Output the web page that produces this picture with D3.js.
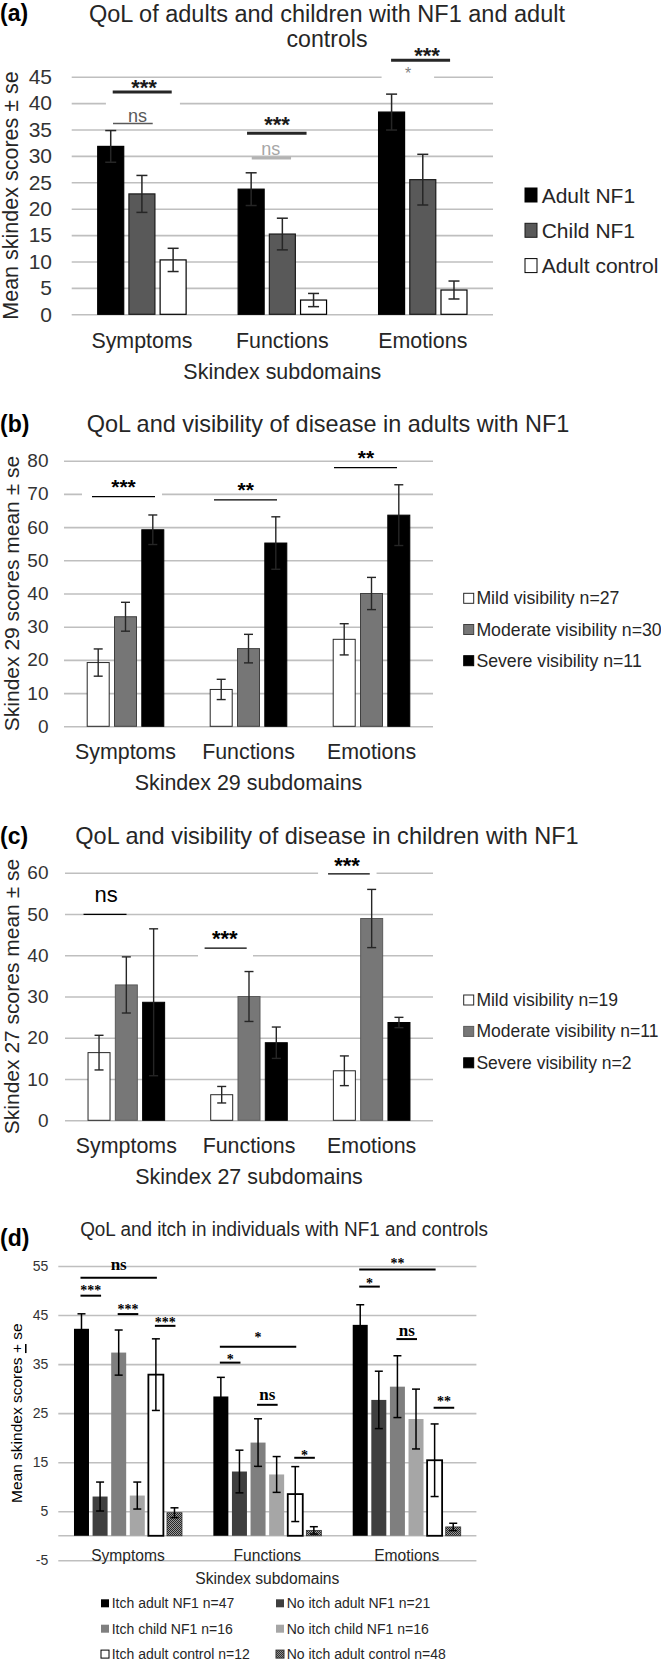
<!DOCTYPE html>
<html>
<head>
<meta charset="utf-8">
<script src="https://cdnjs.cloudflare.com/ajax/libs/d3/7.8.5/d3.min.js"></script>
<style>
  body { margin: 0; background: #fff; }
  svg { display: block; }
</style>
</head>
<body>
<div id="viz"></div>
<script>
const SANS = '"Liberation Sans", Arial, sans-serif';
const SERIF = '"Liberation Serif", "Times New Roman", serif';

const categories = ['Symptoms', 'Functions', 'Emotions'];

// (a) adults / children / controls  -- rows = series, cols = categories
const aSeries = ['Adult NF1', 'Child NF1', 'Adult control'];
const aMean = [[31.8, 23.7, 38.3], [22.8, 15.2, 25.5], [10.3, 2.7, 4.6]];
const aSe = [[3.0, 3.1, 3.4], [3.5, 3.0, 4.8], [2.2, 1.25, 1.7]];
const aTicks = [0, 5, 10, 15, 20, 25, 30, 35, 40, 45];

// (b) visibility, adults
const bSeries = ['Mild visibility n=27', 'Moderate visibility n=30', 'Severe visibility n=11'];
const bMean = [[19.2, 11.1, 26.2], [33.0, 23.4, 40.0], [59.2, 55.2, 63.6]];
const bSe = [[4.1, 3.05, 4.7], [4.35, 4.3, 4.85], [4.45, 7.9, 9.15]];
const bTicks = [0, 10, 20, 30, 40, 50, 60, 70, 80];

// (c) visibility, children
const cSeries = ['Mild visibility n=19', 'Moderate visibility n=11', 'Severe visibility n=2'];
const cMean = [[16.4, 6.2, 12.0], [32.8, 30.0, 48.9], [28.6, 18.8, 23.7]];
const cSe = [[4.2, 2.0, 3.6], [6.8, 6.05, 7.05], [17.8, 3.8, 1.25]];
const cTicks = [0, 10, 20, 30, 40, 50, 60];

// (d) itch
const dSeries = ['Itch adult NF1 n=47', 'No itch adult NF1 n=21', 'Itch child NF1 n=16',
  'No itch child NF1 n=16', 'Itch adult control n=12', 'No itch adult control n=48'];
const dMean = [[42.2, 28.4, 43.0], [8.0, 13.1, 27.7], [37.35, 19.0, 30.4],
  [8.2, 12.5, 23.8], [32.85, 8.5, 15.4], [4.7, 1.1, 1.8]];
const dSe = [[3.05, 3.9, 4.1], [2.95, 4.35, 5.85], [4.6, 4.85, 6.3],
  [2.75, 3.65, 6.1], [7.3, 5.6, 7.4], [1.0, 0.75, 0.75]];
const dTicks = [-5, 5, 15, 25, 35, 45, 55];

// significance marks: category, label, values (text / line) and offsets from category centre
const aSig = [
  {c: 0, label: '***', tv: 44.0, v: 42.1, x1: -29.2, x2: 29.8, tx: 2.1, st: 'aBold', mask: [-36, 38, 39.4, 41.8]},
  {c: 0, label: 'ns', tv: 37.4, v: 36.15, x1: -28.9, x2: 10.8, tx: -4.4, st: 'aNs'},
  {c: 1, label: '***', tv: 37.0, v: 34.3, x1: -35.3, x2: 24.2, tx: -5.3, st: 'aBold'},
  {c: 1, label: 'ns', tv: 31.0, v: 29.6, x1: -30.6, x2: 8.7, tx: -11.6, st: 'aNsLight'},
  {c: 2, label: '***', tv: 50.0, v: 48.1, x1: -31.7, x2: 27.3, tx: 4.3, st: 'aBold'},
  {c: 2, label: '*', tv: 46.4, v: 45, x1: -41.2, x2: 11.3, tx: -14.7, st: 'aStar'}
];
const bSig = [
  {c: 0, label: '***', tv: 73.7, v: 69.2, x1: -33.5, x2: 29.5, tx: -2, st: 'bBold', mask: [-43.5, 36.5, 68.6, 71.5]},
  {c: 1, label: '**', tv: 72.7, v: 68.2, x1: -34.5, x2: 28.5, tx: -2.7, st: 'bBold'},
  {c: 2, label: '**', tv: 82.4, v: 77.9, x1: -37.5, x2: 25.5, tx: -5.5, st: 'bBold'}
];
const cSig = [
  {c: 0, label: 'ns', tv: 54.2, v: 49.9, x1: -42.8, x2: 0.2, tx: -20.3, st: 'cNs'},
  {c: 1, label: '***', tv: 45.3, v: 41.7, x1: -44.4, x2: -2.3, tx: -24.2, st: 'cBold', mask: [-51, 4, 39.3, 40.7]},
  {c: 2, label: '***', tv: 63.1, v: 59.7, x1: -43.6, x2: -1.9, tx: -24.6, st: 'cBold', mask: [-53.6, 4.9, 59.5, 60.5]}
];
// for (d) the lines join two bars (series index s1..s2)
const dSig = [
  {c: 0, label: 'ns', tv: 55.0, v: 52.6, s1: 0, s2: 4},
  {c: 0, label: '***', tv: 50.5, v: 48.95, s1: 0, s2: 1},
  {c: 0, label: '***', tv: 46.7, v: 45.2, s1: 2, s2: 3},
  {c: 0, label: '***', tv: 44.0, v: 42.8, s1: 4, s2: 5},
  {c: 1, label: '*', tv: 40.9, v: 38.55, s1: 0, s2: 4},
  {c: 1, label: '*', tv: 36.5, v: 35.3, s1: 0, s2: 1},
  {c: 1, label: 'ns', tv: 28.4, v: 26.7, s1: 2, s2: 3},
  {c: 1, label: '*', tv: 16.9, v: 15.9, s1: 4, s2: 5},
  {c: 2, label: '**', tv: 56.1, v: 54.3, s1: 0, s2: 4},
  {c: 2, label: '*', tv: 51.9, v: 50.8, s1: 0, s2: 1},
  {c: 2, label: 'ns', tv: 41.6, v: 40.1, s1: 2, s2: 3},
  {c: 2, label: '**', tv: 27.8, v: 26.1, s1: 4, s2: 5}
];

const sigStyles = {
  aBold: {font: SANS, weight: 'bold', size: 22, color: '#1a1a1a', stroke: '#262626', width: 3, shadow: '#8c8c8c'},
  aNs: {font: SANS, weight: 'normal', size: 18, color: '#595959', stroke: '#595959', width: 1.5},
  aNsLight: {font: SANS, weight: 'normal', size: 18, color: '#a6a6a6', stroke: '#b3b3b3', width: 3, shadow: '#d9d9d9'},
  aStar: {font: SANS, weight: 'normal', size: 16, color: '#7f7f7f', stroke: '#ffffff', width: 3},
  bBold: {font: SANS, weight: 'bold', size: 21, color: '#000', stroke: '#000', width: 1.2},
  cNs: {font: SANS, weight: 'normal', size: 22, color: '#000', stroke: '#000', width: 1.2, shadow: '#c8c8c8'},
  cBold: {font: SANS, weight: 'bold', size: 22, color: '#000', stroke: '#000', width: 1.2, shadow: '#c8c8c8'},
  dSig: {font: SERIF, weight: 'bold', size: 14, nsSize: 17, color: '#000', stroke: '#000', width: 2, shadow: '#9a9a9a'}
};

const svg = d3.select('#viz').append('svg').attr('width', 661).attr('height', 1659);
const defs = svg.append('defs');
defs.append('filter').attr('id', 'blur')
  .attr('x', '-20%').attr('y', '-300%').attr('width', '140%').attr('height', '700%')
  .append('feGaussianBlur').attr('stdDeviation', 1.6);
// fine dark checker used by "No itch adult control"
const pat = defs.append('pattern').attr('id', 'hatch')
  .attr('patternUnits', 'userSpaceOnUse').attr('width', 2).attr('height', 2);
pat.append('rect').attr('width', 2).attr('height', 2).attr('fill', '#9a9a9a');
pat.append('rect').attr('width', 1).attr('height', 1).attr('fill', '#262626');
pat.append('rect').attr('x', 1).attr('y', 1).attr('width', 1).attr('height', 1).attr('fill', '#262626');

function drawPanel(p) {
  const g = svg.append('g');
  const x0 = d3.scaleBand().domain(categories).range([p.left, p.right]);
  const y = d3.scaleLinear().domain(p.domain).range([p.bottom, p.top]);
  const n = p.series.length;
  const gap = 1 - p.barW / p.pitch;
  const x1 = d3.scaleBand().domain(d3.range(n))
    .range([-n * p.pitch / 2, n * p.pitch / 2]).paddingInner(gap).paddingOuter(gap / 2);
  const cx = i => x0(categories[i]) + x0.bandwidth() / 2;
  const off = s => x1(s) + x1.bandwidth() / 2;

  // gridlines + tick labels
  const axis = g.append('g').attr('transform', `translate(${p.left},0)`)
    .call(d3.axisLeft(y).tickValues(p.ticks).tickSize(-(p.right - p.left))
      .tickPadding(p.tickPad).tickFormat(d => String(d)));
  axis.attr('font-family', SANS).attr('font-size', p.tickSize).attr('color', '#333');
  axis.select('.domain').remove();
  axis.selectAll('line').attr('stroke', '#bfbfbf').attr('stroke-width', 1.6);
  if (p.zeroLine) {
    g.append('line').attr('x1', p.left).attr('x2', p.right)
      .attr('y1', y(0)).attr('y2', y(0)).attr('stroke', '#bfbfbf').attr('stroke-width', 1.6);
  }

  // significance geometry
  const sigs = p.sigs.map(s => {
    const st = sigStyles[s.st || p.sigStyle];
    let a = s.x1, b = s.x2, tx = s.tx;
    if (s.s1 !== undefined) { a = off(s.s1) - 1; b = off(s.s2) + 1; tx = (a + b) / 2; }
    return Object.assign({}, s, {st, a, b, tx});
  });

  // white text-box masks hiding gridlines
  sigs.filter(s => s.mask).forEach(s => {
    g.append('rect').attr('x', cx(s.c) + s.mask[0]).attr('width', s.mask[1] - s.mask[0])
      .attr('y', y(s.mask[3])).attr('height', y(s.mask[2]) - y(s.mask[3])).attr('fill', '#fff');
  });
  // soft shadows under the significance lines
  sigs.filter(s => s.st.shadow).forEach(s => {
    g.append('line').attr('x1', cx(s.c) + s.a).attr('x2', cx(s.c) + s.b)
      .attr('y1', y(s.v) + 3).attr('y2', y(s.v) + 3)
      .attr('stroke', s.st.shadow).attr('stroke-width', 4).attr('filter', 'url(#blur)');
  });

  // bars
  p.series.forEach((name, si) => {
    g.append('g').selectAll('rect').data(p.mean[si]).join('rect')
      .attr('x', (d, ci) => cx(ci) + x1(si))
      .attr('width', x1.bandwidth())
      .attr('y', d => y(d))
      .attr('height', d => y(0) - y(d))
      .attr('fill', p.fills[si])
      .attr('stroke', p.strokes[si] || 'none')
      .attr('stroke-width', p.barStrokeW[si]);
  });

  // error bars
  p.series.forEach((name, si) => {
    const eg = g.append('g').attr('stroke', p.errColor).attr('stroke-width', p.errW);
    p.mean[si].forEach((m, ci) => {
      const xc = cx(ci) + off(si);
      const lo = y(m - p.se[si][ci]), hi = y(m + p.se[si][ci]);
      eg.append('line').attr('x1', xc).attr('x2', xc).attr('y1', lo).attr('y2', hi);
      eg.append('line').attr('x1', xc - p.capW / 2).attr('x2', xc + p.capW / 2).attr('y1', lo).attr('y2', lo);
      eg.append('line').attr('x1', xc - p.capW / 2).attr('x2', xc + p.capW / 2).attr('y1', hi).attr('y2', hi);
    });
  });

  // significance lines and labels
  sigs.forEach(s => {
    const st = s.st;
    g.append('line').attr('x1', cx(s.c) + s.a).attr('x2', cx(s.c) + s.b)
      .attr('y1', y(s.v)).attr('y2', y(s.v))
      .attr('stroke', st.stroke).attr('stroke-width', st.width);
    const isStar = s.label.indexOf('*') >= 0;
    const size = (!isStar && st.nsSize) ? st.nsSize : st.size;
    const f = st.font === SERIF ? (isStar ? 0.5 : 0.23) : (isStar ? 0.58 : 0.26);
    g.append('text').attr('x', cx(s.c) + s.tx).attr('y', y(s.tv) + f * size)
      .attr('text-anchor', 'middle').attr('font-family', st.font).attr('font-weight', st.weight)
      .attr('font-size', size).attr('fill', st.color).text(s.label);
  });

  // category labels
  g.append('g').selectAll('text').data(categories).join('text')
    .attr('x', (d, i) => cx(i)).attr('y', p.catY)
    .attr('text-anchor', 'middle').attr('dominant-baseline', 'central')
    .attr('font-family', SANS).attr('font-size', p.catSize).attr('fill', '#262626')
    .text(d => d);
  g.append('text').attr('x', (p.left + p.right) / 2).attr('y', p.xTitleY)
    .attr('text-anchor', 'middle').attr('dominant-baseline', 'central')
    .attr('font-family', SANS).attr('font-size', p.catSize).attr('fill', '#262626')
    .attr('textLength', p.xTitleLen).attr('lengthAdjust', 'spacingAndGlyphs')
    .text(p.xTitle);

  // y title
  const yt = g.append('text')
    .attr('transform', `translate(${p.yTitleX},${(p.top + p.bottom) / 2}) rotate(-90)`)
    .attr('text-anchor', 'middle').attr('dominant-baseline', 'central')
    .attr('font-family', SANS).attr('font-size', p.yTitleSize).attr('fill', p.yTitleColor || '#262626');
  p.yTitle.forEach(part => {
    const t = yt.append('tspan').text(part.t);
    if (part.u) t.attr('text-decoration', 'underline');
  });

  // panel tag + title
  g.append('text').attr('x', 0).attr('y', p.tagY).attr('dominant-baseline', 'central')
    .attr('font-family', SANS).attr('font-weight', 'bold').attr('font-size', 23).attr('fill', '#000')
    .text(p.tag);
  p.title.forEach((line, i) => {
    const t = g.append('text').attr('x', p.titleX).attr('y', p.titleY + i * p.titleGap)
      .attr('text-anchor', 'middle').attr('dominant-baseline', 'central')
      .attr('font-family', SANS).attr('font-size', p.titleSize).attr('fill', '#262626')
      .text(line);
    if (p.titleLen[i]) t.attr('textLength', p.titleLen[i]).attr('lengthAdjust', 'spacingAndGlyphs');
  });

  // legend
  const lg = g.append('g').selectAll('g').data(p.series).join('g')
    .attr('transform', (d, i) => {
      const col = i % p.legCols, row = Math.floor(i / p.legCols);
      return `translate(${p.legX + col * p.legColW},${p.legY + row * p.legRowH})`;
    });
  lg.append('rect').attr('x', 0).attr('y', -p.legMark[1] / 2)
    .attr('width', p.legMark[0]).attr('height', p.legMark[1])
    .attr('fill', (d, i) => p.fills[i])
    .attr('stroke', (d, i) => p.strokes[i] || 'none').attr('stroke-width', 1);
  lg.append('text').attr('x', p.legText).attr('y', 0).attr('dominant-baseline', 'central')
    .attr('font-family', SANS).attr('font-size', p.legSize).attr('fill', '#262626')
    .text(d => d);
}

drawPanel({
  tag: '(a)', tagY: 13, title: ['QoL of adults and children with NF1 and adult', 'controls'],
  titleLen: [476, 81], titleX: 327, titleY: 13.5, titleGap: 25, titleSize: 23.5,
  left: 71.7, right: 493, top: 76.7, bottom: 314.3, domain: [0, 45], ticks: aTicks,
  tickPad: 19.7, tickSize: 21,
  series: aSeries, mean: aMean, se: aSe,
  fills: ['#000', '#595959', '#fff'], strokes: ['#000', '#1a1a1a', '#000'], barStrokeW: [1.2, 1.2, 1.2],
  pitch: 31.2, barW: 26, capW: 11, errColor: '#262626', errW: 1.5,
  catY: 341, catSize: 21.4, xTitle: 'Skindex subdomains', xTitleY: 371.7, xTitleLen: 198,
  yTitle: [{t: 'Mean skindex scores ± se'}], yTitleX: 10.5, yTitleSize: 21.5,
  legX: 525, legY: 195, legCols: 1, legColW: 0, legRowH: 35.3, legMark: [12, 14], legText: 16.7, legSize: 21,
  sigs: aSig
});

drawPanel({
  tag: '(b)', tagY: 424.3, title: ['QoL and visibility of disease in adults with NF1'],
  titleLen: [482.7], titleX: 328, titleY: 424.3, titleGap: 0, titleSize: 23.4,
  left: 64, right: 433, top: 460.7, bottom: 726.3, domain: [0, 80], ticks: bTicks,
  tickPad: 15.5, tickSize: 19,
  series: bSeries, mean: bMean, se: bSe,
  fills: ['#fff', '#767676', '#000'], strokes: ['#262626', '#404040', '#000'], barStrokeW: [1, 1, 1],
  pitch: 27.3, barW: 22, capW: 9, errColor: '#262626', errW: 1.4,
  catY: 751.7, catSize: 21.4, xTitle: 'Skindex 29 subdomains', xTitleY: 783.3, xTitleLen: 227.7,
  yTitle: [{t: 'Skindex 29 scores mean ± se'}], yTitleX: 11, yTitleSize: 21,
  legX: 463.7, legY: 598.3, legCols: 1, legColW: 0, legRowH: 31.2, legMark: [10, 10], legText: 12.7, legSize: 17.7,
  sigs: bSig
});

drawPanel({
  tag: '(c)', tagY: 835.7, title: ['QoL and visibility of disease in children with NF1'],
  titleLen: [503.4], titleX: 327, titleY: 835.7, titleGap: 0, titleSize: 23.4,
  left: 65, right: 433, top: 872.7, bottom: 1120.3, domain: [0, 60], ticks: cTicks,
  tickPad: 16.5, tickSize: 19,
  series: cSeries, mean: cMean, se: cSe,
  fills: ['#fff', '#777777', '#000'], strokes: ['#262626', '#5a5a5a', '#000'], barStrokeW: [1, 1, 1],
  pitch: 27.3, barW: 22, capW: 9, errColor: '#262626', errW: 1.4,
  catY: 1146, catSize: 21.4, xTitle: 'Skindex 27 subdomains', xTitleY: 1176.7, xTitleLen: 227.7,
  yTitle: [{t: 'Skindex 27 scores mean ± se'}], yTitleX: 11, yTitleSize: 21,
  legX: 463.7, legY: 1000, legCols: 1, legColW: 0, legRowH: 31.4, legMark: [10, 10], legText: 12.7, legSize: 17.5,
  sigs: cSig
});

drawPanel({
  tag: '(d)', tagY: 1237.7, title: ['QoL and itch in individuals with NF1 and controls'],
  titleLen: [407.7], titleX: 284, titleY: 1229.3, titleGap: 0, titleSize: 19.5,
  left: 58.3, right: 476.4, top: 1266, bottom: 1560.3, domain: [-5, 55], ticks: dTicks,
  tickPad: 10, tickSize: 14, zeroLine: true,
  series: dSeries, mean: dMean, se: dSe,
  fills: ['#000', '#3f3f3f', '#7f7f7f', '#a6a6a6', '#fff', 'url(#hatch)'],
  strokes: [null, null, null, null, '#000', '#333'], barStrokeW: [0, 0, 0, 0, 1.8, 0.8],
  pitch: 18.6, barW: 15, capW: 8, errColor: '#000', errW: 1.5,
  catY: 1555, catSize: 15.6, xTitle: 'Skindex subdomains', xTitleY: 1578.3, xTitleLen: 144,
  yTitle: [{t: 'Mean skindex scores '}, {t: '+', u: true}, {t: ' se'}], yTitleX: 16, yTitleSize: 15.5, yTitleColor: '#000',
  legX: 101, legY: 1603.3, legCols: 2, legColW: 175, legRowH: 25.4, legMark: [8, 8], legText: 10.7, legSize: 14,
  sigs: dSig, sigStyle: 'dSig'
});
</script>
</body>
</html>
